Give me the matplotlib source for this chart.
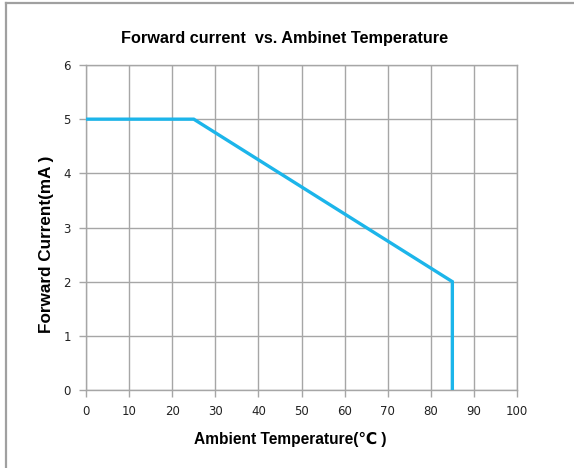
import matplotlib
matplotlib.use('Agg')
import matplotlib.pyplot as plt
from matplotlib.lines import Line2D

plt.rcParams['font.family'] = ['Liberation Sans', 'DejaVu Sans']

temp = [0, 25, 85, 85]
current = [5, 5, 2, 0]
x_ticks = [0, 10, 20, 30, 40, 50, 60, 70, 80, 90, 100]
y_ticks = [0, 1, 2, 3, 4, 5, 6]

fig = plt.figure(figsize=(5.74, 4.68), dpi=100)
ax = fig.add_axes([86 / 574, 78 / 468, 431 / 574, 325 / 468])

ax.plot(temp, current, color='#1cb5ea', linewidth=2.4, solid_joinstyle='miter', zorder=3)

ax.set_xlim(0, 100)
ax.set_ylim(0, 6)
ax.set_xticks(x_ticks)
ax.set_yticks(y_ticks)
ax.grid(True, color='#a6a6a6', linewidth=1.0)
for s in ax.spines.values():
    s.set_color('#a6a6a6')
    s.set_linewidth(1.0)
ax.tick_params(axis='both', color='#a6a6a6', length=5, width=1.0,
               labelsize=8.5, labelcolor='#222222')
ax.tick_params(axis='x', pad=6)
ax.tick_params(axis='y', pad=6)
for lab in ax.get_xticklabels() + ax.get_yticklabels():
    lab.set_family(['DejaVu Sans'])

fig.text(0.495, 0.918, 'Forward current  vs. Ambinet Temperature',
         ha='center', va='center', fontsize=11.7, fontweight='bold')
fig.text(0.505, 0.06, 'Ambient Temperature(\u2103 )',
         ha='center', va='center', fontsize=11.2, fontweight='bold',
         family=['Liberation Sans', 'DejaVu Sans'])
fig.text(0.081, 0.479, 'Forward Current(mA )', rotation=90,
         ha='center', va='center', fontsize=12.3, fontweight='bold')

# outer chart frame (top and left edges visible)
fig.add_artist(Line2D([6 / 574, 6 / 574], [0, 1 - 3 / 468], transform=fig.transFigure,
                      color='#a0a0a0', linewidth=1.6))
fig.add_artist(Line2D([6 / 574, 1], [1 - 3 / 468, 1 - 3 / 468], transform=fig.transFigure,
                      color='#a0a0a0', linewidth=1.6))

fig.savefig('out.png', dpi=100)
